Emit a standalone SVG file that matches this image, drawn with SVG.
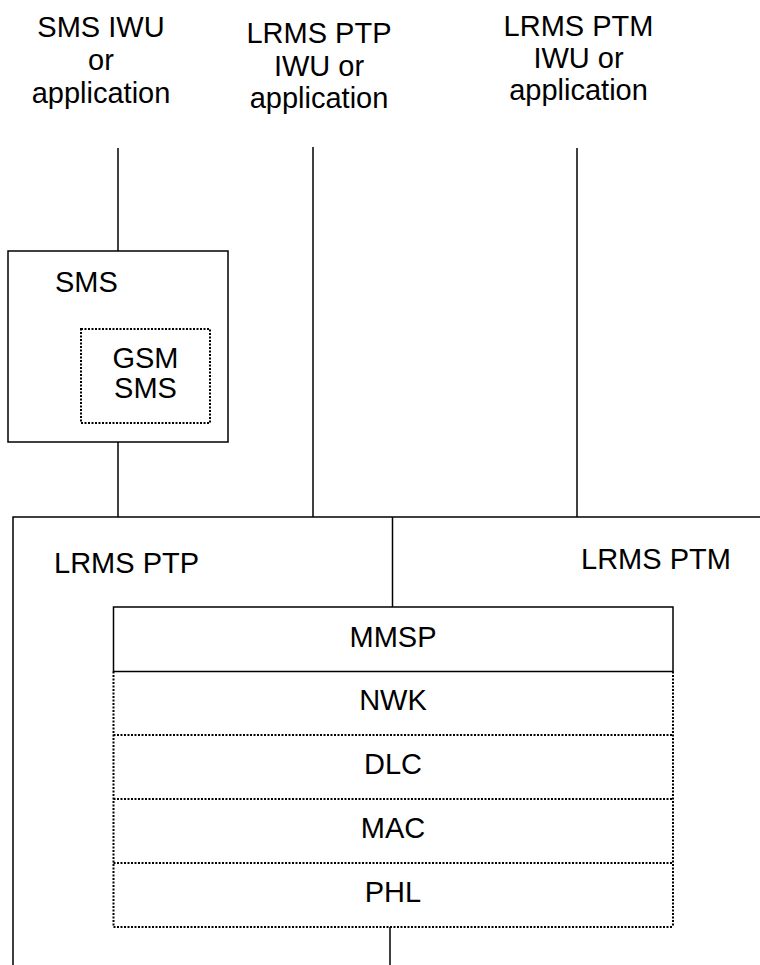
<svg xmlns="http://www.w3.org/2000/svg" width="760" height="965" viewBox="0 0 760 965">
<style>
text{font-family:"Liberation Sans",Arial,sans-serif;font-size:29px;fill:#000}
.c{text-anchor:middle}
.s{fill:none;stroke:#000;stroke-width:1.5}
.d{fill:none;stroke:#000;stroke-width:2;stroke-dasharray:2 1.5}
</style>
<rect width="760" height="965" fill="#fff"/>
<g id="connectors">
<line class="s" x1="118" y1="148" x2="118" y2="251"/>
<line class="s" x1="118" y1="442" x2="118" y2="517"/>
<line class="s" x1="313" y1="147" x2="313" y2="517"/>
<line class="s" x1="577" y1="148" x2="577" y2="517"/>
<line class="s" x1="392.5" y1="517" x2="392.5" y2="607"/>
<line class="s" x1="390" y1="927" x2="390" y2="965"/>
</g>
<g id="label-sms-iwu">
<text class="c" x="101" y="37">SMS IWU</text>
<text class="c" x="101" y="70">or</text>
<text class="c" x="101" y="103">application</text>
</g>
<g id="label-lrms-ptp-iwu">
<text class="c" x="319" y="43">LRMS PTP</text>
<text class="c" x="319" y="76">IWU or</text>
<text class="c" x="319" y="108">application</text>
</g>
<g id="label-lrms-ptm-iwu">
<text class="c" x="578.5" y="36">LRMS PTM</text>
<text class="c" x="578.5" y="68">IWU or</text>
<text class="c" x="578.5" y="100">application</text>
</g>
<g id="sms">
<rect class="s" x="8" y="251" width="220" height="191"/>
<text x="55" y="292">SMS</text>
</g>
<g id="gsm-sms">
<rect class="d" x="81" y="329" width="129" height="94"/>
<text class="c" x="145.5" y="368">GSM</text>
<text class="c" x="145.5" y="398">SMS</text>
</g>
<g id="lrms-ptp">
<polyline class="s" points="13,965 13,517 760,517"/>
<text x="54" y="573">LRMS PTP</text>
</g>
<g id="lrms-ptm">
<text x="581" y="569">LRMS PTM</text>
</g>
<g id="mmsp">
<rect class="s" x="113.5" y="607" width="559.5" height="64.5"/>
<text class="c" x="393" y="647">MMSP</text>
</g>
<g id="nwk">
<line class="d" x1="113.5" y1="671.5" x2="113.5" y2="927"/>
<line class="d" x1="673" y1="671.5" x2="673" y2="927"/>
<text class="c" x="393" y="710">NWK</text>
</g>
<g id="dlc">
<line class="d" x1="113.5" y1="735" x2="673" y2="735"/>
<text class="c" x="393" y="774">DLC</text>
</g>
<g id="mac">
<line class="d" x1="113.5" y1="799" x2="673" y2="799"/>
<text class="c" x="393" y="838">MAC</text>
</g>
<g id="phl">
<line class="d" x1="113.5" y1="863" x2="673" y2="863"/>
<line class="d" x1="113.5" y1="927" x2="673" y2="927"/>
<text class="c" x="393" y="902">PHL</text>
</g>
</svg>
